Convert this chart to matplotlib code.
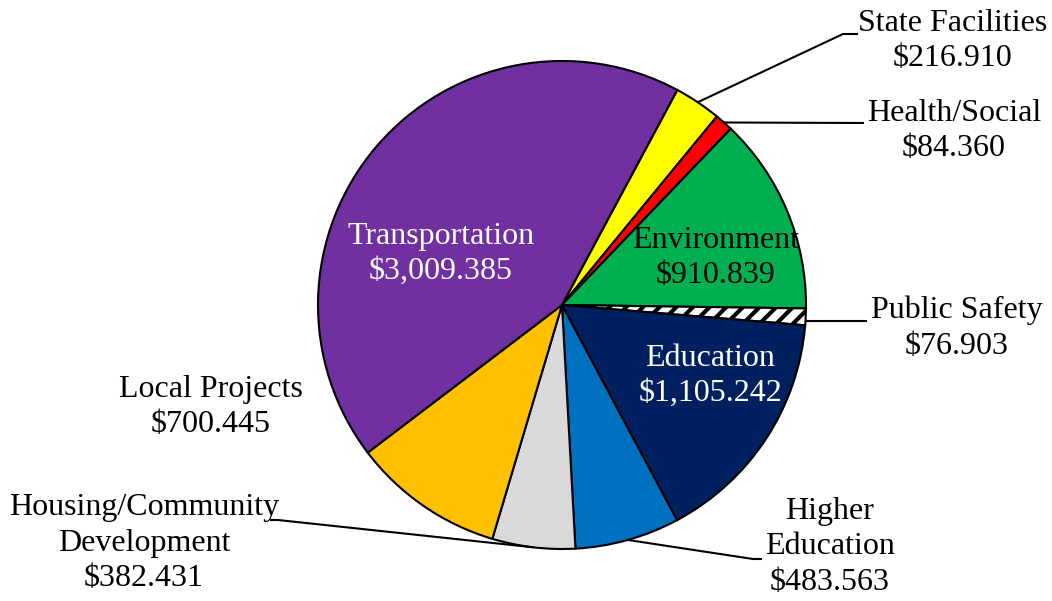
import numpy as np
import matplotlib
matplotlib.use("Agg")
import matplotlib.pyplot as plt

plt.rcParams['font.family'] = ['Liberation Serif', 'DejaVu Serif']
plt.rcParams['hatch.linewidth'] = 3.0

categories = ["State Facilities", "Health/Social", "Environment", "Public Safety",
              "Education", "Higher\nEducation", "Housing/Community\nDevelopment",
              "Local Projects", "Transportation"]
values = [216.910, 84.360, 910.839, 76.903, 1105.242, 483.563, 382.431, 700.445, 3009.385]
value_labels = ["$216.910", "$84.360", "$910.839", "$76.903", "$1,105.242",
                "$483.563", "$382.431", "$700.445", "$3,009.385"]
colors = ["#FFFF00", "#FF0000", "#00B050", "#FFFFFF", "#002060",
          "#0070C0", "#D9D9D9", "#FFC000", "#7030A0"]

W, H = 1052, 601
fig = plt.figure(figsize=(W / 100, H / 100), dpi=100)
ax = fig.add_axes([0, 0, 1, 1])

cx, cy, R = 562, H - 305, 244
wedges, _ = ax.pie(values, colors=colors, startangle=61.8, counterclock=False,
                   center=(cx, cy), radius=R,
                   wedgeprops=dict(edgecolor="black", linewidth=1.5))
wedges[3].set_hatch("//")
ax.set_xlim(0, W)
ax.set_ylim(0, H)
ax.set_aspect("equal")
ax.axis("off")

fs = 23
# label layout: (x, y in pixel from top, color, leader path points in px from top)
layout = {
    0: (953, 41, "black", [(843, 34), (858, 34)]),
    1: (954, 131, "black", [(864, 123)]),
    2: (716, 258, "black", None),
    3: (957, 328, "black", [(805, 321), (867, 321)]),
    4: (710, 376, "white", None),
    5: (830, 547, "black", [(753, 559), (762, 559)]),
    6: (144, 543, "black", [(278, 520), (270, 520)]),
    7: (211, 407, "black", None),
    8: (441, 254, "white", None),
}

for i, w in enumerate(wedges):
    x, y, col, path = layout[i]
    ax.text(x, H - y, categories[i] + "\n" + value_labels[i], ha="center", va="center",
            fontsize=fs, color=col, linespacing=1.3)
    if path is not None:
        mid = np.deg2rad((w.theta1 + w.theta2) / 2)
        sx, sy = cx + R * np.cos(mid), cy + R * np.sin(mid)
        if i == 3:
            pts = [(p[0], H - p[1]) for p in path]
            xs = [pts[0][0], pts[1][0]]
            ys = [pts[0][1], pts[1][1]]
        else:
            xs = [sx] + [p[0] for p in path]
            ys = [sy] + [H - p[1] for p in path]
        ax.plot(xs, ys, color="black", linewidth=1.5, solid_capstyle="butt")

fig.savefig("out.png", dpi=100)
